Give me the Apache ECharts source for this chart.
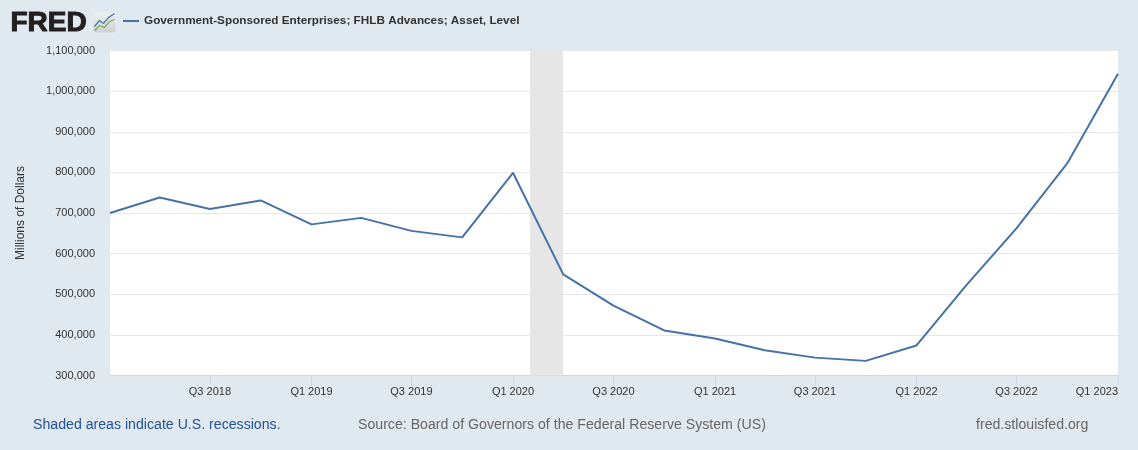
<!DOCTYPE html>
<html>
<head>
<meta charset="utf-8">
<style>html,body{margin:0;padding:0;background:#e1e9f0}#c{width:1138px;height:450px}</style>
<script src="https://cdn.jsdelivr.net/npm/echarts@6/dist/echarts.min.js"></script>
</head>
<body>
<div id="c"></div>
<script>
// Quarterly FHLB advances, millions of dollars
const quarters = ['2018-01-01','2018-04-01','2018-07-01','2018-10-01','2019-01-01','2019-04-01','2019-07-01','2019-10-01',
  '2020-01-01','2020-04-01','2020-07-01','2020-10-01','2021-01-01','2021-04-01','2021-07-01','2021-10-01',
  '2022-01-01','2022-04-01','2022-07-01','2022-10-01','2023-01-01'];
const advances = [700000,738000,710000,731000,672000,688000,656000,640000,
  799000,549000,472000,411000,391000,362000,344000,336000,
  374000,522000,662000,822000,1043000];
const tickDates = ['2018-07-01','2019-01-01','2019-07-01','2020-01-01','2020-07-01','2021-01-01','2021-07-01','2022-01-01','2022-07-01','2023-01-01'];
const tickLabels = ['Q3 2018','Q1 2019','Q3 2019','Q1 2020','Q3 2020','Q1 2021','Q3 2021','Q1 2022','Q3 2022','Q1 2023'];
const recession = ['2020-02-01','2020-04-01'];
const seriesName = 'Government-Sponsored Enterprises; FHLB Advances; Asset, Level';

const ms = s => Date.parse(s + 'T00:00:00Z');
const tickMs = tickDates.map(ms);
const labelFont = 'Arial, "Liberation Sans", sans-serif';
const footerFont = '14.15px Arial, "Liberation Sans", sans-serif';

const chart = echarts.init(document.getElementById('c'), null, {renderer: 'canvas'});
chart.setOption({
  animation: false,
  backgroundColor: '#e1e9f0',
  grid: {left: 110, right: 20, top: 50.5, bottom: 74.5, backgroundColor: '#fff', show: true, borderWidth: 0},
  xAxis: {
    type: 'value',
    min: ms('2018-01-01'),
    max: ms('2023-01-01'),
    axisLine: {show: true, onZero: false, lineStyle: {color: '#ccd6eb', width: 1}},
    axisTick: {show: true, customValues: tickMs, length: 10, lineStyle: {color: '#ccd6eb'}},
    axisLabel: {
      customValues: tickMs,
      hideOverlap: false,
      showMinLabel: true,
      showMaxLabel: true,
      alignMaxLabel: 'right',
      margin: 11,
      color: '#333',
      fontSize: 11,
      fontFamily: labelFont,
      formatter: v => tickLabels[tickMs.indexOf(v)]
    },
    splitLine: {show: false}
  },
  yAxis: {
    type: 'value',
    min: 300000,
    max: 1100000,
    interval: 100000,
    name: 'Millions of Dollars',
    nameLocation: 'middle',
    nameGap: 83,
    nameTextStyle: {color: '#333', fontSize: 12, fontFamily: labelFont},
    axisLine: {show: false},
    axisTick: {show: false},
    axisLabel: {
      margin: 15,
      padding: [3, 0, 0, 0],
      color: '#333',
      fontSize: 11,
      fontFamily: labelFont,
      formatter: v => v.toLocaleString('en-US')
    },
    splitLine: {lineStyle: {color: '#e6e6e6', width: 1}}
  },
  series: [{
    type: 'line',
    name: seriesName,
    data: quarters.map((q, i) => [ms(q), advances[i]]),
    showSymbol: false,
    lineStyle: {color: '#4572a7', width: 2},
    itemStyle: {color: '#4572a7'},
    markArea: {
      silent: true,
      itemStyle: {color: '#e6e6e6'},
      label: {show: false},
      data: [[{xAxis: ms(recession[0])}, {xAxis: ms(recession[1])}]]
    },
    z: 3
  }],
  legend: {
    left: 118,
    top: 10,
    icon: 'path://M0,0H16V2H0Z',
    itemWidth: 16,
    itemHeight: 2,
    itemGap: 5,
    textStyle: {color: '#333', fontSize: 11.75, fontWeight: 'bold', fontFamily: labelFont},
    data: [seriesName]
  },
  graphic: [
    {type: 'text', left: 10, top: 9, style: {text: 'FRED', fill: '#231f20', stroke: '#231f20', lineWidth: 1, font: '900 28px "Liberation Sans", Arial, sans-serif'}},
    {type: 'group', left: 92, top: 11, children: [
      {type: 'rect', shape: {x: 0, y: 0, width: 22, height: 20, r: 2}, style: {
        fill: new echarts.graphic.LinearGradient(0, 0, 0, 1, [{offset: 0, color: '#eef1f2'}, {offset: 1, color: '#cdd0d1'}])
      }},
      {type: 'polyline', shape: {points: [[1,14],[6,8],[10,11],[15,5],[21,1]]}, style: {stroke: '#4572a7', fill: 'none', lineWidth: 1.2}},
      {type: 'polyline', shape: {points: [[1,18],[6,13],[11,15],[16,9],[21,7]]}, style: {stroke: '#7fa650', fill: 'none', lineWidth: 1.2}}
    ]},
    {type: 'text', left: 33, top: 418, style: {text: 'Shaded areas indicate U.S. recessions.', fill: '#215396', font: footerFont}},
    {type: 'text', left: 358, top: 418, style: {text: 'Source: Board of Governors of the Federal Reserve System (US)', fill: '#666', font: footerFont}},
    {type: 'text', left: 976, top: 418, style: {text: 'fred.stlouisfed.org', fill: '#666', font: footerFont}}
  ]
});
</script>
</body>
</html>
